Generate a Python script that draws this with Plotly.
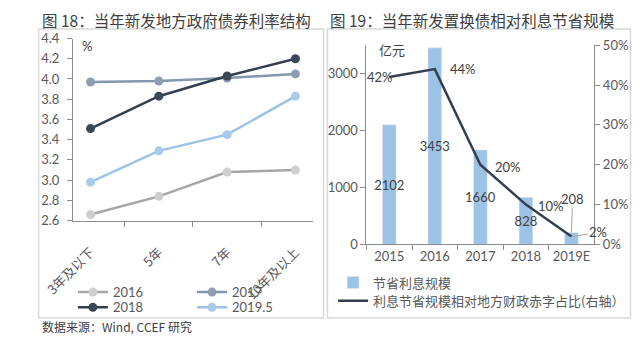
import plotly.graph_objects as go

# ---------------- data ----------------
rate_categories = ["3年及以下", "5年", "7年", "10年及以上"]
rate_series_names = ["2016", "2017", "2018", "2019.5"]
rate_2016 = [2.66, 2.84, 3.08, 3.10]
rate_2017 = [3.97, 3.98, 4.01, 4.05]
rate_2018 = [3.51, 3.83, 4.03, 4.20]
rate_2019_5 = [2.98, 3.29, 3.45, 3.83]

saving_years = ["2015", "2016", "2017", "2018", "2019E"]
saving_amount = [2102, 3453, 1660, 828, 208]      # 亿元
saving_ratio = [42, 44, 20, 10, 2]                # % of local fiscal deficit

W, H = 640, 344
FONT = "Lato, 'Noto Sans CJK SC', sans-serif"
CJK = "'Noto Sans CJK SC', sans-serif"
TXT = "#595959"
AXIS = "#8C8C8C"


def px(x):
    return x / W


def py(y):
    return 1 - y / H


fig = go.Figure()

# ---------------- left chart: rate structure ----------------
rate_values = [rate_2016, rate_2017, rate_2018, rate_2019_5]
line_colors = ["#A6A6A6", "#8497B0", "#333F50", "#9DC3E6"]
marker_colors = ["#CFCFCF", "#8E9DB2", "#3B4656", "#A9CAEA"]
legend_ids = ["legend", "legend2", "legend3", "legend4"]
for name, vals, lc, mc, lg in zip(rate_series_names, rate_values, line_colors,
                                  marker_colors, legend_ids):
    fig.add_trace(go.Scatter(
        x=rate_categories, y=vals, name=name, mode="lines+markers",
        line=dict(color=lc, width=2.5),
        marker=dict(color=mc, size=9),
        xaxis="x", yaxis="y", legend=lg,
    ))

# ---------------- right chart: interest saving ----------------
bar_text = [str(v) for v in saving_amount[:-1]] + [""]
fig.add_trace(go.Bar(
    x=saving_years, y=saving_amount, name="节省利息规模",
    marker=dict(color="#9DC3E6"), width=0.3,
    text=bar_text, textposition="inside", insidetextanchor="middle",
    constraintext="none", textangle=0,
    textfont=dict(color="#404040", size=13, family=FONT),
    xaxis="x2", yaxis="y2", legend="legend5",
))
fig.add_trace(go.Scatter(
    x=saving_years, y=saving_ratio, name="利息节省规模相对地方财政赤字占比(右轴）",
    mode="lines", line=dict(color="#333F50", width=2.5),
    xaxis="x2", yaxis="y3", legend="legend6",
))

annotations = []
# line labels (x given as category index on the category axis)
label_offsets = [(-9, 0, "center"), (13, 0, "left"), (13, -2, "left"), (10, -1, "left")]
for i, (r, (xs, ys, xa)) in enumerate(zip(saving_ratio[:-1], label_offsets)):
    annotations.append(dict(
        x=i, y=r, xref="x2", yref="y3", text=f"{r}%", showarrow=False,
        xanchor=xa, yanchor="middle", xshift=xs, yshift=ys,
        font=dict(size=13, color="#404040", family=FONT)))
# leader-line labels for 2019E
last = len(saving_years) - 1
annotations.append(dict(
    x=last, y=saving_ratio[-1], xref="x2", yref="y3",
    text=f"{saving_ratio[-1]}%", showarrow=True, arrowhead=0, arrowwidth=1,
    arrowcolor="#A6A6A6", ax=27, ay=-4,
    font=dict(size=13, color="#404040", family=FONT)))
annotations.append(dict(
    x=last, y=saving_amount[-1], xref="x2", yref="y2",
    text=str(saving_amount[-1]), showarrow=True, arrowhead=0, arrowwidth=1,
    arrowcolor="#A6A6A6", ax=1, ay=-34,
    font=dict(size=13, color="#404040", family=FONT)))

# titles, units, source
annotations += [
    dict(x=px(10), y=py(13), xref="paper", yref="paper", xanchor="left",
         yanchor="middle", showarrow=False, text="图 18：当年新发地方政府债券利率结构",
         font=dict(size=15.5, color="#404040", family=CJK)),
    dict(x=px(313), y=py(13), xref="paper", yref="paper", xanchor="left",
         yanchor="middle", showarrow=False, text="图 19：当年新发置换债相对利息节省规模",
         font=dict(size=15.5, color="#404040", family=CJK)),
    dict(x=px(10), y=py(334), xref="paper", yref="paper", xanchor="left",
         yanchor="middle", showarrow=False, text="数据来源：Wind, CCEF 研究",
         font=dict(size=12, color="#404040", family=CJK)),
    dict(x=px(52), y=py(40), xref="paper", yref="paper", xanchor="left",
         yanchor="middle", showarrow=False, text="%",
         font=dict(size=13, color="#404040", family=FONT)),
    dict(x=px(364), y=py(43), xref="paper", yref="paper", xanchor="left",
         yanchor="middle", showarrow=False, text="亿元",
         font=dict(size=13, color="#404040", family=CJK)),
]

# panel frames
shapes = [
    dict(type="rect", xref="paper", yref="paper", x0=px(9), x1=px(308),
         y0=py(325), y1=py(22), line=dict(color="#D9D9D9", width=1.5)),
    dict(type="rect", xref="paper", yref="paper", x0=px(312), x1=px(630),
         y0=py(325), y1=py(22), line=dict(color="#D9D9D9", width=1.5)),
]

tickfont = dict(size=13, color=TXT, family=FONT)
common_axis = dict(showgrid=False, zeroline=False, showline=True, linecolor=AXIS,
                   linewidth=1, ticks="outside", ticklen=5, tickcolor=AXIS,
                   tickfont=tickfont)


def legend_at(x, y, family=FONT):
    return dict(orientation="v", xanchor="left", yanchor="middle",
                x=px(x), y=py(y), bgcolor="rgba(0,0,0,0)", tracegroupgap=0,
                itemwidth=30, font=dict(size=13, color=TXT, family=family))


fig.update_layout(
    width=W, height=H, margin=dict(l=0, r=0, t=0, b=0),
    paper_bgcolor="white", plot_bgcolor="white",
    font=dict(family=FONT, color=TXT),
    xaxis=dict(domain=[px(45), px(297)], anchor="y", type="category",
               categoryorder="array", categoryarray=rate_categories,
               tickson="boundaries", tickangle=-45, ticklabelshift=0,
               ticklabelstandoff=18, showgrid=False, zeroline=False,
               showline=True, linecolor=AXIS, linewidth=1, ticks="outside",
               ticklen=5, tickcolor=AXIS,
               tickfont=dict(size=13, color=TXT, family=CJK)),
    yaxis=dict(domain=[py(223), py(32)], anchor="x", range=[2.6, 4.4],
               dtick=0.2, tickformat=".1f", ticklabelstandoff=5, **common_axis),
    xaxis2=dict(domain=[px(353), px(592)], anchor="y2", type="category",
                categoryorder="array", categoryarray=saving_years,
                range=[-0.5, len(saving_years) - 0.5], autorange=False,
                tickson="boundaries", tickangle=0, **common_axis),
    yaxis2=dict(domain=[py(248), py(39)], anchor="x2", range=[0, 3500],
                tickvals=[0, 1000, 2000, 3000], **common_axis),
    yaxis3=dict(overlaying="y2", anchor="x2", side="right", range=[0, 50],
                dtick=10, ticksuffix="%", **common_axis),
    legend=legend_at(45, 298),
    legend2=legend_at(170, 298),
    legend3=legend_at(45, 314),
    legend4=legend_at(170, 314),
    legend5=legend_at(318, 288, CJK),
    legend6=legend_at(318, 307, CJK),
    annotations=annotations, shapes=shapes,
    showlegend=True,
)

fig.write_html("out.html")
